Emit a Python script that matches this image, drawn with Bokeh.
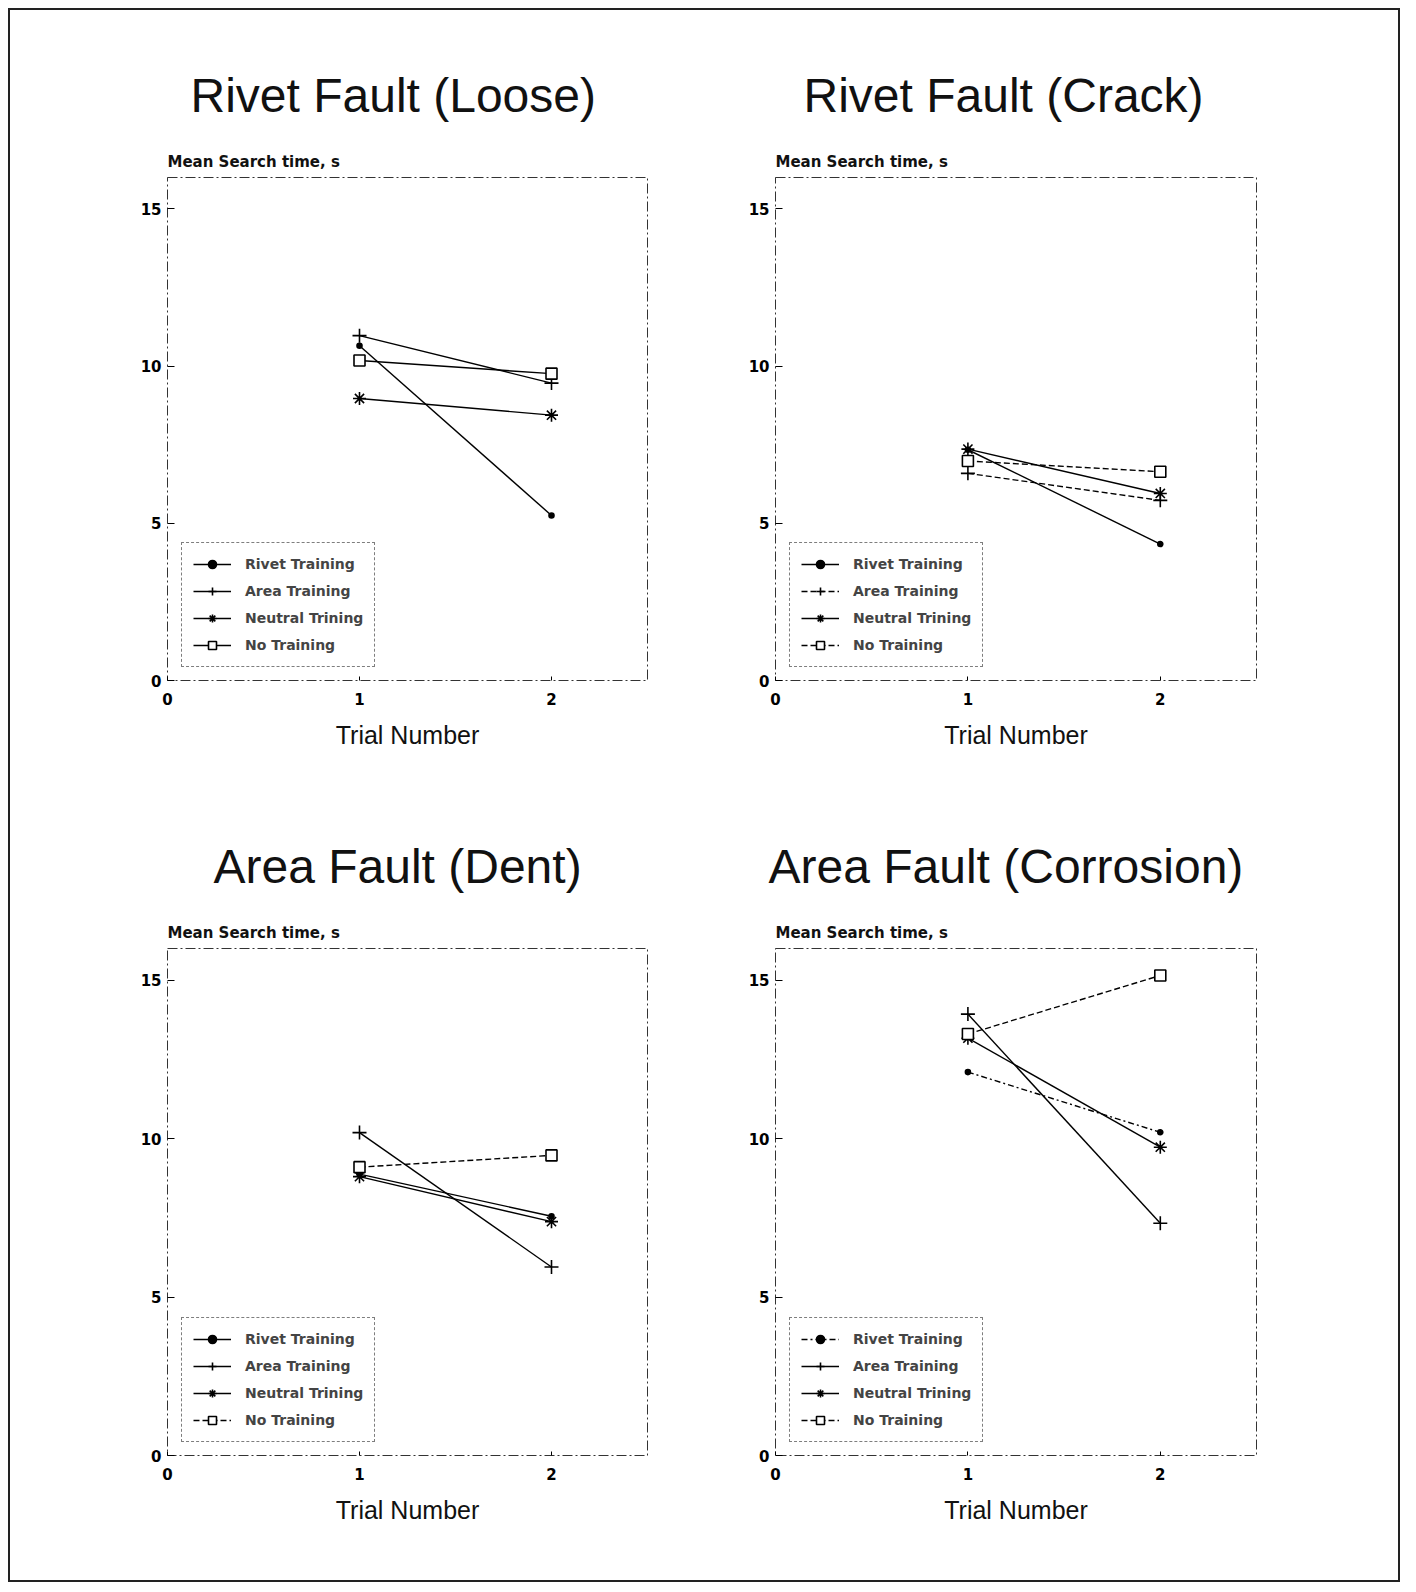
from bokeh.plotting import figure
from bokeh.models import Title, Range1d, FixedTicker
from bokeh.layouts import column, row
from bokeh.embed import file_html
from bokeh.resources import INLINE

# ---------------- data ----------------
trials = [1, 2]
series_names = ["Rivet Training", "Area Training", "Neutral Trining", "No Training"]
panel_titles = ["Rivet Fault (Loose)", "Rivet Fault (Crack)",
                "Area Fault (Dent)", "Area Fault (Corrosion)"]

loose_rivet = [10.65, 5.25]
loose_area = [10.97, 9.46]
loose_neutral = [8.97, 8.44]
loose_none = [10.18, 9.76]

crack_rivet = [7.34, 4.34]
crack_area = [6.59, 5.73]
crack_neutral = [7.36, 5.95]
crack_none = [6.98, 6.64]

dent_rivet = [8.88, 7.55]
dent_area = [10.19, 5.95]
dent_neutral = [8.80, 7.38]
dent_none = [9.10, 9.47]

corr_rivet = [12.10, 10.20]
corr_area = [13.93, 7.33]
corr_neutral = [13.17, 9.73]
corr_none = [13.30, 15.15]

y_ticks = [0, 5, 10, 15]
x_ticks = [0, 1, 2]
x_label = "Trial Number"
y_label = "Mean Search time, s"

# ---------------- styles ----------------
markers = ["circle", "cross", "asterisk", "square"]
marker_sizes = [5, 14, 13, 11]
panel_dashes = [
    ["solid", "solid", "solid", "solid"],
    ["solid", "6 3", "solid", "6 3"],
    ["solid", "solid", "solid", "6 3"],
    ["6 3 2 3", "solid", "solid", "6 3"],
]
title_offsets = [23, 28, 46, -7]
SMALL = "DejaVu Sans"
BIG = "Liberation Sans"


def make(title, toff, data, dashes, left, right, height, top, bottom):
    p = figure(width=694, height=height, x_range=Range1d(0, 2.5), y_range=Range1d(0, 16),
               output_backend="svg", toolbar_location=None, title=None,
               min_border_left=left, min_border_right=right,
               min_border_top=top, min_border_bottom=bottom)
    p.add_layout(Title(text=y_label, align="left", text_font=SMALL, text_font_size="15px",
                       text_font_style="bold", standoff=14, text_color="#111111"), "above")
    p.add_layout(Title(text=title, align="left", text_font=BIG, text_font_size="48px",
                       text_font_style="normal", standoff=44, offset=toff,
                       text_color="#111111"), "above")
    p.xgrid.visible = False
    p.ygrid.visible = False
    p.outline_line_color = "#333333"
    p.outline_line_dash = "10 3 2 3"
    p.outline_line_width = 1
    p.background_fill_color = "white"
    p.border_fill_color = "white"

    for ax in (p.xaxis, p.yaxis):
        ax.axis_line_color = None
        ax.minor_tick_line_color = None
        ax.major_tick_out = 0
        ax.major_tick_line_color = "black"
        ax.major_label_text_font = SMALL
        ax.major_label_text_font_style = "bold"
        ax.major_label_text_font_size = "15px"
        ax.major_label_text_color = "black"
    p.yaxis.ticker = FixedTicker(ticks=y_ticks)
    p.xaxis.ticker = FixedTicker(ticks=x_ticks)
    p.yaxis.major_tick_in = 7
    p.xaxis.major_tick_in = 4
    p.yaxis.major_label_standoff = 6
    p.xaxis.major_label_standoff = 12
    p.xaxis.axis_label = x_label
    p.xaxis.axis_label_text_font = BIG
    p.xaxis.axis_label_text_font_size = "25px"
    p.xaxis.axis_label_text_font_style = "normal"
    p.xaxis.axis_label_text_color = "#111111"
    p.xaxis.axis_label_standoff = 13

    for vals, name, mk, ms, dash in zip(data, series_names, markers, marker_sizes, dashes):
        p.line(trials, vals, line_color="black", line_width=1.4, line_dash=dash,
               legend_label=name)
        p.scatter(trials, vals, marker=mk, size=ms, line_color="black", line_width=1.6,
                  fill_color="black" if mk == "circle" else "white", legend_label=name)

    lg = p.legend[0]
    lg.location = (14, 13)
    lg.border_line_color = "black"
    lg.border_line_dash = "4 2"
    lg.border_line_width = 1
    lg.background_fill_color = "white"
    lg.background_fill_alpha = 1
    lg.label_text_font = SMALL
    lg.label_text_font_style = "bold"
    lg.label_text_font_size = "14px"
    lg.glyph_width = 38
    lg.glyph_height = 20
    lg.label_height = 20
    lg.label_standoff = 14
    lg.spacing = 7
    lg.padding = 11
    lg.margin = 0
    return p


p1 = make(panel_titles[0], title_offsets[0], [loose_rivet, loose_area, loose_neutral, loose_none],
          panel_dashes[0], 157, 57, 775, 167, 105)
p2 = make(panel_titles[1], title_offsets[1], [crack_rivet, crack_area, crack_neutral, crack_none],
          panel_dashes[1], 71, 142, 775, 167, 105)
p3 = make(panel_titles[2], title_offsets[2], [dent_rivet, dent_area, dent_neutral, dent_none],
          panel_dashes[2], 157, 57, 795, 163, 125)
p4 = make(panel_titles[3], title_offsets[3], [corr_rivet, corr_area, corr_neutral, corr_none],
          panel_dashes[3], 71, 142, 795, 163, 125)

layout = column(row(p1, p2), row(p3, p4),
                styles={"border": "2px solid #222222", "background-color": "white",
                        "margin": "8px"})

open("out.html", "w").write(file_html(layout, INLINE))
